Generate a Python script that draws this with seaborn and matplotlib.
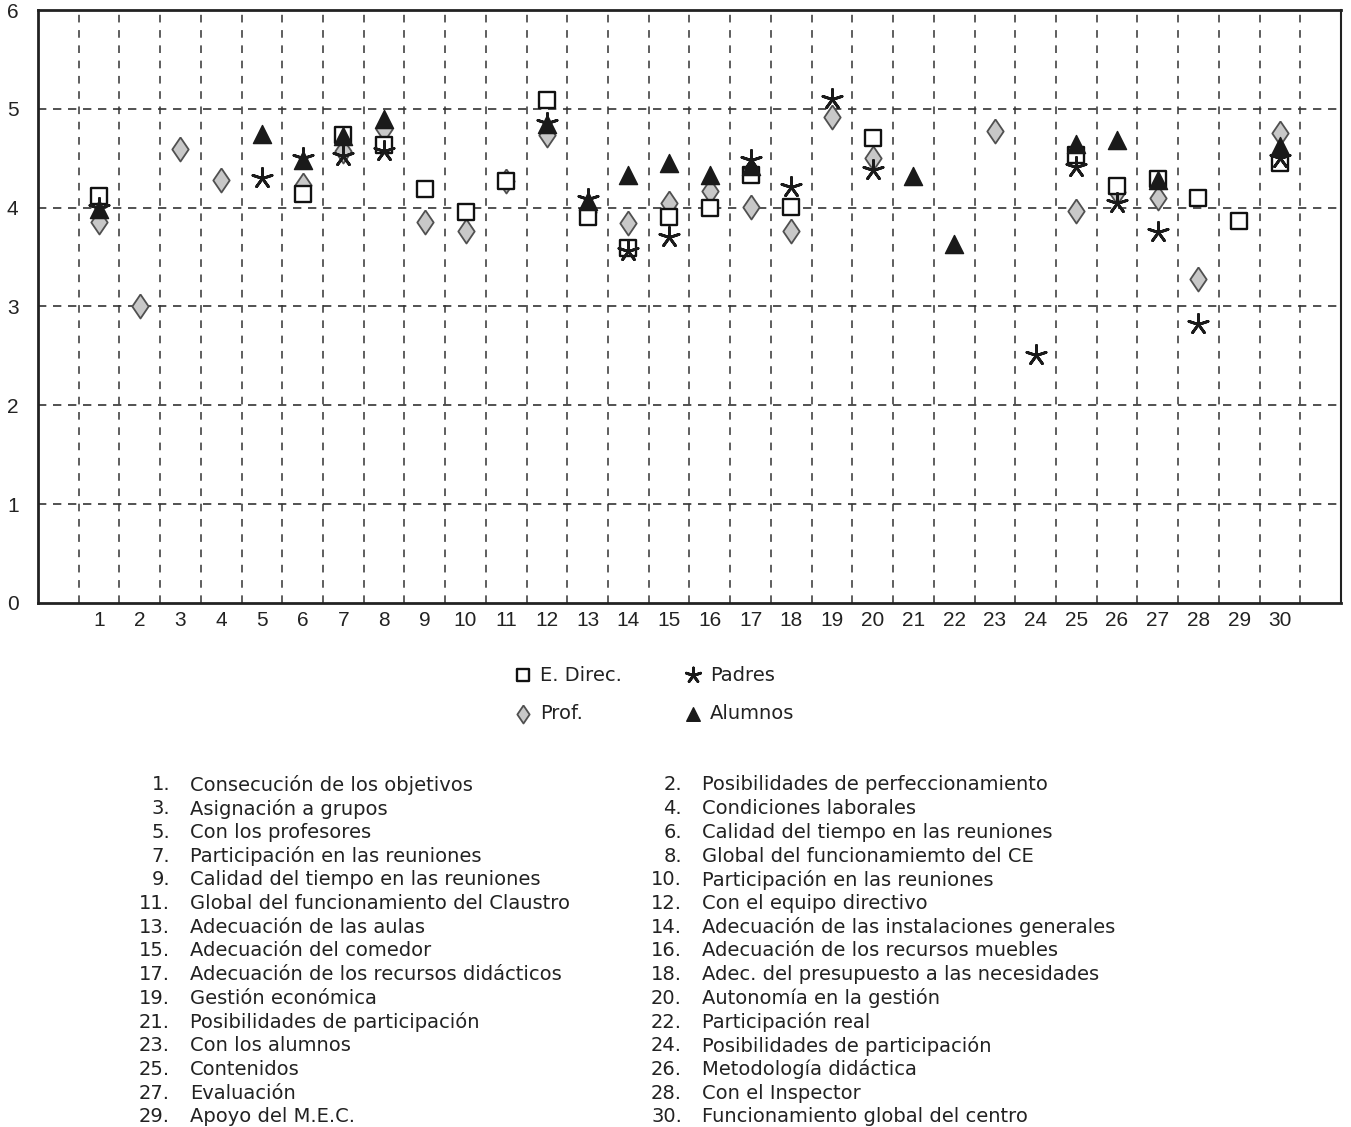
import numpy as np
import pandas as pd
import matplotlib
matplotlib.use("Agg")
import matplotlib.pyplot as plt
import seaborn as sns

nan = np.nan
items = list(range(1, 31))
e_direc = [4.12, nan, nan, nan, nan, 4.14, 4.74, 4.63, 4.19, 3.96,
           4.27, 5.09, 3.91, 3.59, 3.91, 4.00, 4.33, 4.01, nan, 4.70,
           nan, nan, nan, nan, 4.53, 4.22, 4.29, 4.10, 3.87, 4.45]
prof = [3.85, 3.00, 4.59, 4.28, nan, 4.23, 4.57, 4.80, 3.86, 3.76,
        4.27, 4.74, 3.96, 3.84, 4.05, 4.17, 4.01, 3.76, 4.92, 4.50,
        nan, nan, 4.78, nan, 3.97, 4.16, 4.10, 3.28, nan, 4.76]
padres = [4.00, nan, nan, nan, 4.30, 4.50, 4.52, 4.57, nan, nan,
          nan, 4.86, 4.09, 3.56, 3.70, nan, 4.48, 4.21, 5.10, 4.38,
          nan, nan, nan, 2.51, 4.41, 4.05, 3.75, 2.82, nan, 4.50]
alumnos = [3.99, nan, nan, nan, 4.75, 4.48, 4.73, 4.90, nan, nan,
           nan, 4.85, 4.07, 4.33, 4.45, 4.33, 4.42, nan, nan, nan,
           4.32, 3.63, nan, nan, 4.64, 4.68, 4.28, nan, nan, 4.62]

series_names = ["E. Direc.", "Prof.", "Padres", "Alumnos"]
y_ticks = [0, 1, 2, 3, 4, 5, 6]

item_labels = [
    "Consecución de los objetivos",
    "Posibilidades de perfeccionamiento",
    "Asignación a grupos",
    "Condiciones laborales",
    "Con los profesores",
    "Calidad del tiempo en las reuniones",
    "Participación en las reuniones",
    "Global del funcionamiemto del CE",
    "Calidad del tiempo en las reuniones",
    "Participación en las reuniones",
    "Global del funcionamiento del Claustro",
    "Con el equipo directivo",
    "Adecuación de las aulas",
    "Adecuación de las instalaciones generales",
    "Adecuación del comedor",
    "Adecuación de los recursos muebles",
    "Adecuación de los recursos didácticos",
    "Adec. del presupuesto a las necesidades",
    "Gestión económica",
    "Autonomía en la gestión",
    "Posibilidades de participación",
    "Participación real",
    "Con los alumnos",
    "Posibilidades de participación",
    "Contenidos",
    "Metodología didáctica",
    "Evaluación",
    "Con el Inspector",
    "Apoyo del M.E.C.",
    "Funcionamiento global del centro",
]

sns.set_theme(style="white")
plt.rcParams["font.family"] = ["Liberation Sans", "DejaVu Sans"]
tickfont = ["Liberation Sans", "DejaVu Sans"]
wide = ["DejaVu Sans"]

df = pd.DataFrame({"item": items, "E. Direc.": e_direc, "Prof.": prof,
                   "Padres": padres, "Alumnos": alumnos})

fig = plt.figure(figsize=(13.51, 11.27), dpi=100)
ax = fig.add_axes([0.0281, 0.4650, 0.9645, 0.5261])

diamond = [(0, 1), (0.68, 0), (0, -1), (-0.68, 0), (0, 1)]
styles = {
    "Prof.": dict(marker=diamond, s=300, color="#c8c8c8", edgecolor="#505050", linewidth=1.3, zorder=3),
    "E. Direc.": dict(marker="s", s=140, color="white", edgecolor="#111111", linewidth=1.7, zorder=4),
    "Alumnos": dict(marker="^", s=170, color="#1a1a1a", edgecolor="#1a1a1a", linewidth=1.0, zorder=5),
    "Padres": dict(marker=(5, 2, 0), s=210, color="#1a1a1a", edgecolor="#1a1a1a", linewidth=2.0, zorder=6),
}
for name in ["Prof.", "E. Direc.", "Alumnos", "Padres"]:
    st = styles[name]
    sns.scatterplot(data=df, x="item", y=name, ax=ax, marker=st["marker"], s=st["s"],
                    color=st["color"], edgecolor=st["edgecolor"], linewidth=st["linewidth"],
                    zorder=st["zorder"], label=name, legend=False)

ax.set_xlim(-0.5, 31.5)
ax.set_ylim(0, 6)
ax.set_xticks(items)
ax.set_xticklabels([str(i) for i in items], family=tickfont, fontsize=15, color="#222222")
ax.set_xticks(np.arange(0.5, 31, 1), minor=True)
ax.set_yticks(y_ticks)
ax.set_yticklabels([str(v) for v in y_ticks], family=tickfont, fontsize=15, color="#222222")
ax.tick_params(axis="x", which="both", length=0, pad=6)
ax.tick_params(axis="y", which="both", length=0, pad=14)
ax.set_xlabel("")
ax.set_ylabel("")

for yv in y_ticks[1:-1]:
    ax.axhline(yv, color="#333333", lw=1.2, ls=(0, (5, 4)), zorder=1)
ax.grid(False)
ax.grid(which="minor", axis="x", color="#333333", lw=1.1, ls=(0, (5, 5)), zorder=1)

for side, lw in [("left", 2.0), ("bottom", 2.0), ("top", 2.0), ("right", 1.5)]:
    ax.spines[side].set_visible(True)
    ax.spines[side].set_color("#222222")
    ax.spines[side].set_linewidth(lw)

# legend
handles, labels = ax.get_legend_handles_labels()
hmap = dict(zip(labels, handles))
order = ["E. Direc.", "Prof.", "Padres", "Alumnos"]
leg = fig.legend([hmap[n] for n in order], order, ncol=2, loc="center",
                 bbox_to_anchor=(0.484, 0.384), frameon=False,
                 prop={"family": wide, "size": 14},
                 markerscale=0.75, handletextpad=0.35, columnspacing=3.2,
                 labelspacing=1.0, handlelength=1.0)
for t in leg.get_texts():
    t.set_color("#222222")

# item list
row_h = 23.7 / 1127
y0 = 1 - 785 / 1127
for k, lab in enumerate(item_labels):
    num = k + 1
    row = k // 2
    yy = y0 - row * row_h
    if num % 2 == 1:
        xn, xt = 170 / 1351, 190 / 1351
    else:
        xn, xt = 682 / 1351, 702 / 1351
    fig.text(xn, yy, f"{num}.", ha="right", va="center", family=wide, fontsize=14, color="#222222")
    fig.text(xt, yy, lab, ha="left", va="center", family=wide, fontsize=14, color="#222222")

fig.savefig("out.png", dpi=100, facecolor="white")
